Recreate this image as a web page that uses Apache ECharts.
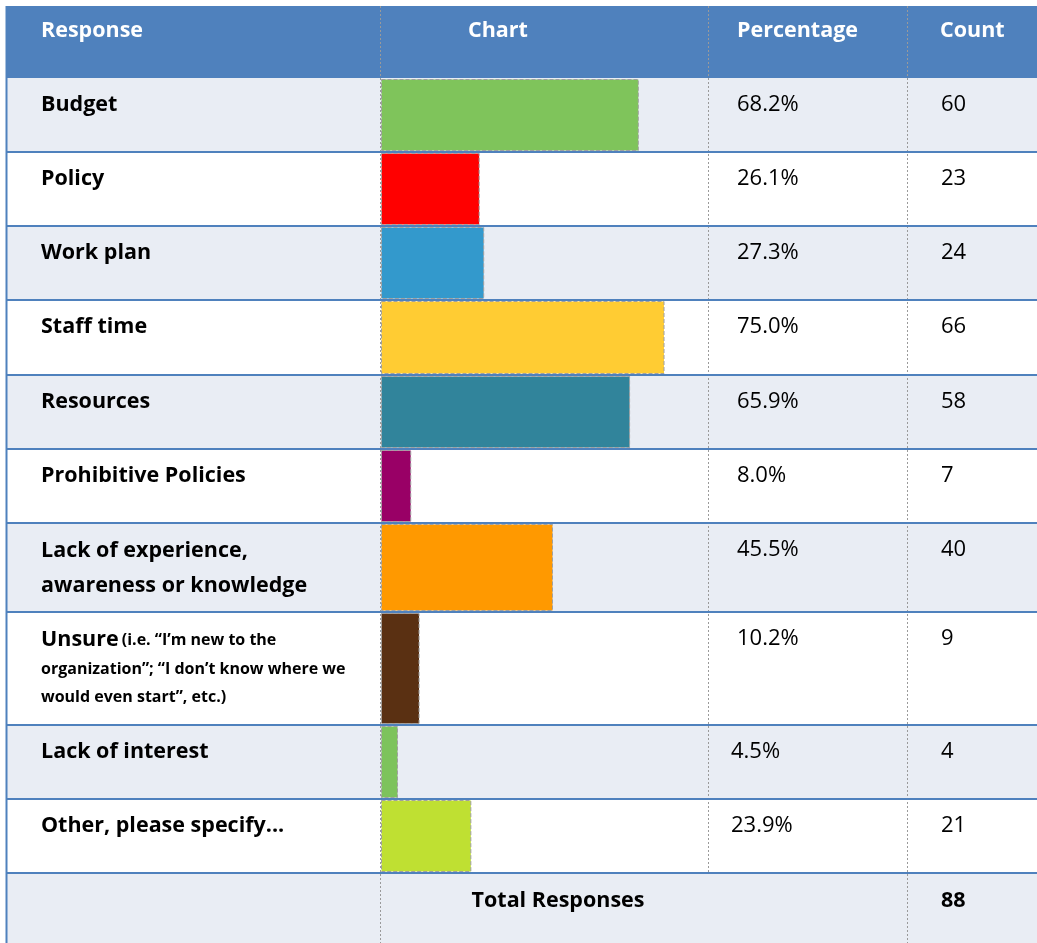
<!DOCTYPE html>
<html>
<head>
<meta charset="utf-8">
<script src="https://cdn.jsdelivr.net/npm/echarts@6/dist/echarts.min.js"></script>
<style>
html,body{margin:0;padding:0;background:#fff;}
#chart{width:1037px;height:943px;}
</style>
</head>
<body>
<div id="chart"></div>
<script>
// ---- data ----
const headers = ['Response', 'Chart', 'Percentage', 'Count'];
const responses = ['Budget', 'Policy', 'Work plan', 'Staff time', 'Resources', 'Prohibitive Policies',
  'Lack of experience,\nawareness or knowledge', 'Unsure', 'Lack of interest', 'Other, please specify...'];
const unsureNote = ['(i.e. “I’m new to the', 'organization”; “I don’t know where we', 'would even start”, etc.)'];
const percentages = [68.2, 26.1, 27.3, 75.0, 65.9, 8.0, 45.5, 10.2, 4.5, 23.9];
const counts = [60, 23, 24, 66, 58, 7, 40, 9, 4, 21];
const totalLabel = 'Total Responses';
const totalResponses = 88;
const barColors = ['#7FC45B', '#FF0000', '#3399CC', '#FFCC33', '#31849B', '#990066', '#FF9900', '#5A3012', '#7DC35C', '#BFE032'];

// ---- layout ----
const W = 1037, H = 943;
const FONT = '"Open Sans", "Noto Sans", sans-serif';
const tableLeft = 6, headerTop = 6, headerBottom = 78;
const rowEdges = [78, 152, 226, 300, 375, 449, 523, 612, 725, 799, 873, 943];
const colX = [6, 380, 708, 907];
const chartLeft = 381, chartWidth = 378; // 100% span
const light = '#E9EDF4', blue = '#4F81BD';

const grids = [], xAxes = [], yAxes = [], series = [];
responses.forEach((r, i) => {
  const top = rowEdges[i], bottom = rowEdges[i + 1];
  grids.push({ left: chartLeft, width: chartWidth, top: top + 1, height: bottom - top - 2, containLabel: false });
  xAxes.push({ type: 'value', gridIndex: i, min: 0, max: 100, show: false });
  yAxes.push({ type: 'category', gridIndex: i, data: [r], show: false });
  series.push({
    type: 'bar', xAxisIndex: i, yAxisIndex: i, data: [percentages[i]],
    barWidth: '100%', silent: true, z: 2,
    itemStyle: { color: barColors[i], borderColor: '#A0A0A0', borderWidth: 1, borderType: 'dashed' }
  });
});

const g = [];
// backgrounds
g.push({ type: 'rect', z: 0, shape: { x: tableLeft, y: headerTop, width: W - tableLeft, height: headerBottom - headerTop }, style: { fill: blue } });
for (let i = 0; i < rowEdges.length - 1; i++) {
  const isLight = (i % 2 === 0);
  g.push({ type: 'rect', z: 0, shape: { x: tableLeft, y: rowEdges[i], width: W - tableLeft, height: rowEdges[i + 1] - rowEdges[i] }, style: { fill: isLight ? light : '#FFFFFF' } });
}
// column dashed lines
colX.slice(1).forEach((x, k) => {
  const yEnd = (k === 1) ? rowEdges[rowEdges.length - 2] : H;
  g.push({ type: 'line', z: 50, shape: { x1: x + 0.5, y1: headerTop, x2: x + 0.5, y2: yEnd }, style: { stroke: '#9A9A9A', lineWidth: 1, lineDash: [2, 2] } });
});
// row separator lines
for (let i = 1; i < rowEdges.length - 1; i++) {
  g.push({ type: 'line', z: 60, shape: { x1: tableLeft, y1: rowEdges[i], x2: W, y2: rowEdges[i] }, style: { stroke: blue, lineWidth: 2 } });
}
// left border
g.push({ type: 'line', z: 60, shape: { x1: tableLeft + 0.5, y1: headerTop, x2: tableLeft + 0.5, y2: H }, style: { stroke: blue, lineWidth: 2 } });

function txt(text, x, y, opts) {
  return Object.assign({
    type: 'text', z: 100, silent: true,
    style: Object.assign({
      text: text, x: x, y: y, fill: '#000', fontFamily: FONT, fontSize: 22,
      align: 'left', verticalAlign: 'middle', textAlign: 'left', textVerticalAlign: 'middle'
    }, opts || {})
  });
}
// headers
const headerX = [41, 498, 737, 940];
headers.forEach((h, k) => {
  const al = (k === 1) ? 'center' : 'left';
  g.push(txt(h, headerX[k], 31, { fill: '#FFFFFF', fontWeight: 'bold', fontSize: 21.5, align: al, textAlign: al }));
});
// rows
responses.forEach((r, i) => {
  const top = rowEdges[i];
  const cy = top + 27;
  if (r === 'Unsure') {
    g.push({
      type: 'text', z: 100, silent: true,
      style: {
        text: '{a|' + r + '} {b|' + unsureNote[0] + '}\n{b|' + unsureNote[1] + '}\n{b|' + unsureNote[2] + '}',
        x: 41, y: top + 13, align: 'left', verticalAlign: 'top', textAlign: 'left', textVerticalAlign: 'top',
        fill: '#000', fontFamily: FONT,
        rich: {
          a: { fontFamily: FONT, fontSize: 21.5, fontWeight: 'bold', lineHeight: 30, fill: '#000' },
          b: { fontFamily: FONT, fontSize: 16, fontWeight: 'bold', lineHeight: 28, fill: '#000' }
        }
      }
    });
  } else if (r.indexOf('\n') >= 0) {
    g.push(txt(r, 41, top + 10, { fontWeight: 'bold', fontSize: 21.5, lineHeight: 35, verticalAlign: 'top', textVerticalAlign: 'top' }));
  } else {
    g.push(txt(r, 41, cy, { fontWeight: 'bold', fontSize: 21.5 }));
  }
  const px = (i >= 8) ? 731 : 737;
  g.push(txt(percentages[i].toFixed(1) + '%', px, cy, {}));
  g.push(txt(String(counts[i]), 941, cy, {}));
});
// total row
const tTop = rowEdges[rowEdges.length - 2];
g.push(txt(totalLabel, 558, tTop + 28, { fontWeight: 'bold', fontSize: 21.5, align: 'center', textAlign: 'center' }));
g.push(txt(String(totalResponses), 941, tTop + 28, { fontWeight: 'bold', fontSize: 21.5 }));

const chart = echarts.init(document.getElementById('chart'), null, { renderer: 'canvas' });
chart.setOption({
  animation: false,
  backgroundColor: '#FFFFFF',
  grid: grids,
  xAxis: xAxes,
  yAxis: yAxes,
  series: series,
  graphic: { elements: g }
});
</script>
</body>
</html>
